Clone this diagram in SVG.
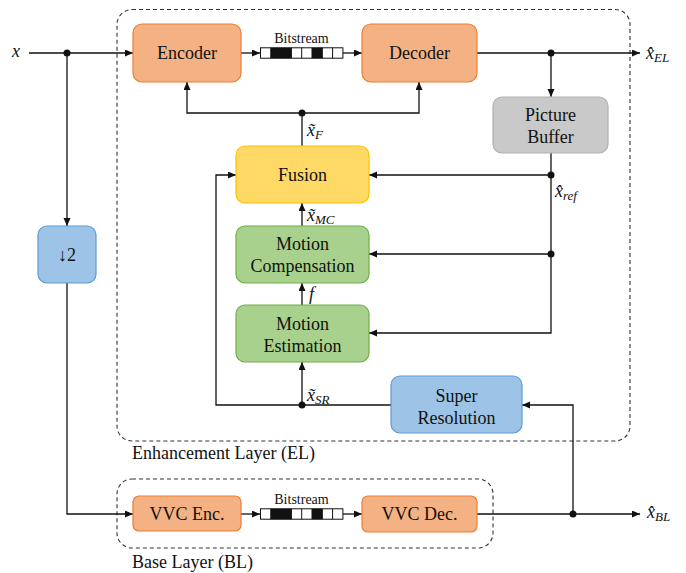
<svg xmlns="http://www.w3.org/2000/svg" width="686" height="573" viewBox="0 0 686 573" font-family="Liberation Serif, DejaVu Serif, serif">
<defs>
<marker id="arr" markerUnits="userSpaceOnUse" markerWidth="9" markerHeight="8" refX="8" refY="3.5" orient="auto"><path d="M0,0 L8,3.5 L0,7 z" fill="#111"/></marker>
<g id="bits">
<rect x="0" y="0" width="82.4" height="10.4" fill="#fff" stroke="#111" stroke-width="1"/>
<rect x="10.3" y="0" width="20.6" height="10.4" fill="#111"/>
<rect x="51.5" y="0" width="10.3" height="10.4" fill="#111"/>
<path d="M10.3,0V10.4M30.9,0V10.4M41.2,0V10.4M51.5,0V10.4M61.8,0V10.4M72.1,0V10.4" stroke="#111" stroke-width="1"/>
</g>
</defs>
<style>
text{font-family:"Liberation Serif","DejaVu Serif",serif}
.t{font-size:18px;fill:#111;text-anchor:middle}
.s{font-size:14px;fill:#111;text-anchor:middle}
.l{font-size:18px;fill:#111}
.m{font-style:italic;font-size:18px;fill:#111}
.sub{font-size:13px}
.c{fill:none;stroke:#111;stroke-width:1.3}
.a{marker-end:url(#arr)}
.d{fill:#111}
.dash{fill:none;stroke:#333;stroke-width:1.1;stroke-dasharray:4 3}
.or{fill:#F4B183;stroke:#ED7D31;stroke-width:1.2}
.gr{fill:#A9D18E;stroke:#70AD47;stroke-width:1.2}
.bl{fill:#9DC3E6;stroke:#5B9BD5;stroke-width:1.2}
.ye{fill:#FFD966;stroke:#FFC000;stroke-width:1.2}
.gy{fill:#C9C9C9;stroke:#AFAFAF;stroke-width:1.2}
</style>

<g id="el-frame">
<rect class="dash" x="117" y="9.5" width="513" height="431.5" rx="15"/>
<text class="l" x="132" y="459">Enhancement Layer (EL)</text>
</g>
<g id="bl-frame">
<rect class="dash" x="117" y="479" width="376" height="69" rx="15"/>
<text class="l" x="132" y="568">Base Layer (BL)</text>
</g>

<g id="connectors">
<path class="c a" d="M29,53H133"/>
<path class="c a" d="M67,53V226"/>
<path class="c a" d="M67,283V514H133"/>
<path class="c a" d="M241,53H260"/>
<path class="c a" d="M343,53H362"/>
<path class="c a" d="M477,53H640"/>
<path class="c a" d="M551,53V97"/>
<path class="c a" d="M551,153V333H369"/>
<path class="c a" d="M551,175H369"/>
<path class="c a" d="M551,254H369"/>
<path class="c" d="M302,146V113"/>
<path class="c a" d="M302,113H187V82"/>
<path class="c a" d="M302,113H419V82"/>
<path class="c a" d="M302,226V203"/>
<path class="c a" d="M302,305V283"/>
<path class="c a" d="M391,405H216V175H236"/>
<path class="c a" d="M302,405V362"/>
<path class="c a" d="M573,514V405H522"/>
<path class="c a" d="M241,514H260"/>
<path class="c a" d="M343,514H362"/>
<path class="c a" d="M477,514H640"/>
<circle class="d" cx="67" cy="53" r="3.5"/>
<circle class="d" cx="551" cy="53" r="3.5"/>
<circle class="d" cx="551" cy="175" r="3.5"/>
<circle class="d" cx="551" cy="254" r="3.5"/>
<circle class="d" cx="302" cy="113" r="3.5"/>
<circle class="d" cx="302" cy="405" r="3.5"/>
<circle class="d" cx="573" cy="514" r="3.5"/>
</g>

<g id="labels">
<text class="m" x="12" y="57">x</text>
<text class="m" x="646" y="59">x̂<tspan class="sub" dy="3">EL</tspan></text>
<text class="m" x="307" y="136">x̃<tspan class="sub" dy="3">F</tspan></text>
<text class="m" x="555" y="197">x̂<tspan class="sub" dy="3">ref</tspan></text>
<text class="m" x="307" y="221">x̃<tspan class="sub" dy="3">MC</tspan></text>
<text class="m" x="309" y="300">f</text>
<text class="m" x="307" y="401">x̃<tspan class="sub" dy="3">SR</tspan></text>
<text class="m" x="647" y="518">x̂<tspan class="sub" dy="3">BL</tspan></text>
</g>

<g id="encoder"><rect class="or" x="133" y="24" width="108" height="58" rx="9"/><text class="t" x="187" y="59">Encoder</text></g>
<g id="bitstream-el"><text class="s" x="301.5" y="43">Bitstream</text><use href="#bits" x="260.5" y="47.8"/></g>
<g id="decoder"><rect class="or" x="362" y="24" width="115" height="58" rx="9"/><text class="t" x="419.5" y="59">Decoder</text></g>
<g id="picture-buffer"><rect class="gy" x="493" y="97" width="115" height="56" rx="9"/><text class="t" x="550.5" y="121">Picture</text><text class="t" x="550.5" y="143">Buffer</text></g>
<g id="fusion"><rect class="ye" x="236" y="146" width="133" height="57" rx="9"/><text class="t" x="302.5" y="181">Fusion</text></g>
<g id="motion-compensation"><rect class="gr" x="236" y="226" width="133" height="57" rx="9"/><text class="t" x="302.5" y="250">Motion</text><text class="t" x="302.5" y="272">Compensation</text></g>
<g id="motion-estimation"><rect class="gr" x="236" y="305" width="133" height="57" rx="9"/><text class="t" x="302.5" y="330">Motion</text><text class="t" x="302.5" y="352">Estimation</text></g>
<g id="super-resolution"><rect class="bl" x="391" y="376" width="131" height="57" rx="9"/><text class="t" x="456.5" y="402">Super</text><text class="t" x="456.5" y="424">Resolution</text></g>
<g id="downsample"><rect class="bl" x="38" y="226" width="58" height="57" rx="9"/><text class="t" x="67" y="261">↓2</text></g>
<g id="vvc-enc"><rect class="or" x="133" y="496" width="108" height="35" rx="6"/><text class="t" x="187" y="520">VVC Enc.</text></g>
<g id="bitstream-bl"><text class="s" x="301.5" y="504">Bitstream</text><use href="#bits" x="260.5" y="508.8"/></g>
<g id="vvc-dec"><rect class="or" x="362" y="496" width="115" height="36" rx="6"/><text class="t" x="419.5" y="520">VVC Dec.</text></g>
</svg>
